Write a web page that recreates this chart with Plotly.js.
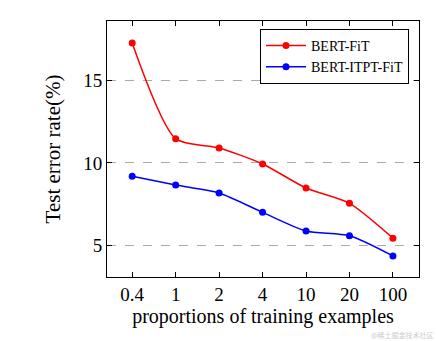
<!DOCTYPE html>
<html>
<head>
<meta charset="utf-8">
<script src="https://cdn.plot.ly/plotly-3.0.1.min.js"></script>
<style>html,body{margin:0;padding:0;background:#fff;}#chart{width:436px;height:341px;}</style>
</head>
<body>
<div id="chart"></div>
<script>
const categories = ["0.4", "1", "2", "4", "10", "20", "100"];
const bertFit = [17.3, 11.48, 10.91, 9.94, 8.48, 7.55, 5.43];
const bertItptFit = [9.19, 8.66, 8.18, 7.0, 5.87, 5.58, 4.35];
const seriesNames = ["BERT-FiT", "BERT-ITPT-FiT"];

const font = "Liberation Serif, Times New Roman, serif";

const traces = [
  {x: categories, y: bertFit, name: seriesNames[0], type: "scatter", mode: "lines+markers",
   line: {color: "#ff0000", width: 1.5, shape: "spline", smoothing: 0.7},
   marker: {color: "#ff0000", size: 7}},
  {x: categories, y: bertItptFit, name: seriesNames[1], type: "scatter", mode: "lines+markers",
   line: {color: "#0000ff", width: 1.5, shape: "spline", smoothing: 0.7},
   marker: {color: "#0000ff", size: 7}}
];

const layout = {
  width: 436, height: 341,
  margin: {l: 107, r: 17, t: 21, b: 64},
  paper_bgcolor: "#fff", plot_bgcolor: "#fff",
  font: {family: font, color: "#000", size: 19},
  showlegend: true,
  legend: {x: 0.968, y: 0.969, xanchor: "right", yanchor: "top",
    bordercolor: "#000", borderwidth: 1, bgcolor: "#fff",
    font: {family: font, size: 14}, tracegroupgap: 0, itemwidth: 40},
  xaxis: {
    type: "category", range: [-0.58, 6.6],
    showline: true, linecolor: "#000", linewidth: 1, mirror: "allticks",
    ticks: "inside", ticklen: 5, tickcolor: "#000",
    showgrid: false, zeroline: false,
    tickfont: {family: font, size: 19},
    title: {text: "proportions of training examples", font: {family: font, size: 20}, standoff: 3}
  },
  yaxis: {
    range: [3.07, 18.63],
    tickvals: [5, 10, 15],
    showline: true, linecolor: "#000", linewidth: 1, mirror: "allticks",
    ticks: "inside", ticklen: 5, tickcolor: "#000",
    showgrid: true, gridcolor: "#aaaaaa", griddash: "dash", gridwidth: 1,
    zeroline: false,
    tickfont: {family: font, size: 19},
    title: {text: "Test error rate(%)", font: {family: font, size: 21}, standoff: 16}
  },
  annotations: [{
    text: "@稀土掘金技术社区", xref: "paper", yref: "paper", x: 1.05, y: -0.25,
    xanchor: "right", yanchor: "bottom", showarrow: false, borderpad: 0,
    font: {family: "Noto Sans CJK SC", size: 7, color: "#cccccc"}
  }]
};

Plotly.newPlot("chart", traces, layout, {displayModeBar: false, staticPlot: true});
</script>
</body>
</html>
